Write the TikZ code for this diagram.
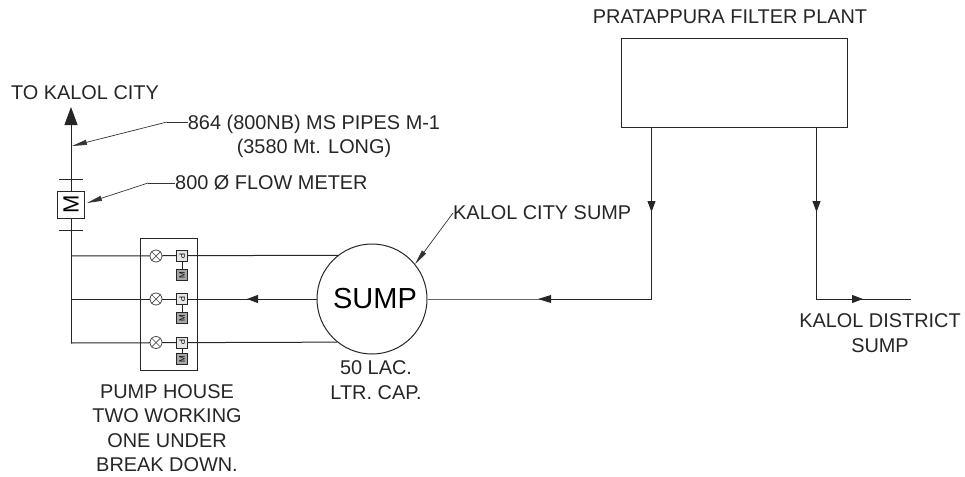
\documentclass[tikz,border=0pt]{standalone}
\usepackage{fontspec}
\setmainfont{Liberation Sans}
\usetikzlibrary{arrows.meta}
\tikzset{
 x=1pt,y=-1pt,
 pipe/.style={draw=black!85,line width=1pt},
 flow/.style={pipe,-{Triangle[length=11pt,width=8pt]}},
 leadline/.style={draw=black!80,line width=0.7pt},
 lead/.style={leadline,-{Triangle[length=15pt,width=5pt]}},
 lbl/.style={font=\fontsize{19.9pt}{24.3pt}\selectfont,text=black!85,inner sep=0pt,align=center},
 pumpbox/.style={draw=black!85,line width=1pt,fill=white,minimum size=11pt,inner sep=0pt},
 valve/.style={draw=black!70,line width=0.8pt,circle,minimum size=12pt,inner sep=0pt,fill=white},
}
\newcommand{\pumpset}[3]{%
 \node[valve] (v#1) at (156,#2) {};
 \draw[black!70,line width=0.7pt] (v#1.north west)--(v#1.south east) (v#1.north east)--(v#1.south west);
 \node[pumpbox,fill=black!10] (p#1) at (182,#2) {\rotatebox{-90}{\fontsize{8pt}{8pt}\selectfont P}};
 \node[pumpbox,fill=black!35] (m#1) at (182,#3) {\rotatebox{90}{\fontsize{8pt}{8pt}\selectfont M}};
 \draw[pipe] (p#1)--(m#1);
}
\begin{document}
\begin{tikzpicture}
\useasboundingbox (0,0) rectangle (965,476);
\node[lbl] (tokalol) at (85,93) {TO KALOL CITY};
\node[lbl] (pipes) at (314,136) {864 (800NB) MS PIPES M-1\\(3580 Mt. LONG)};
\node[lbl,anchor=west] (fm) at (175,183) {800 Ø FLOW METER};
\node[lbl,anchor=west] (citysump) at (453,213) {KALOL CITY SUMP};
\node[lbl] (plantlbl) at (730,17) {PRATAPPURA FILTER PLANT};
\node[draw=black!85,line width=1pt,minimum width=226pt,minimum height=88pt,inner sep=0] (plant) at (734,83) {};
\node[lbl] (dist) at (880,333) {KALOL DISTRICT\\SUMP};
\node[lbl] (cap) at (376,380) {50 LAC.\\LTR. CAP.};
\node[lbl] (ph) at (167,428) {PUMP HOUSE\\TWO WORKING\\ONE UNDER\\BREAK DOWN.};
\node[draw=black!85,line width=1pt,circle,minimum size=110pt,inner sep=0,font=\fontsize{29pt}{29pt}\selectfont] (sump) at (372,299) {\hspace*{6pt}SUMP};
\node[draw=black!85,line width=1pt,minimum width=27pt,minimum height=27pt,inner sep=0] (meter) at (71,204.5) {\rotatebox{90}{\fontsize{22pt}{22pt}\selectfont M}};
\node[draw=black!85,line width=1pt,minimum width=57pt,minimum height=132pt,inner sep=0] (house) at (168.5,304) {};
\coordinate (top) at (71,107);
\coordinate (j1) at (71,256);
\coordinate (j2) at (71,299);
\coordinate (j3) at (71,343);
\draw[pipe,-{Triangle[length=18pt,width=13pt]}] (meter.north)--(top);
\draw[pipe] (meter.south)--(j3);
\draw[pipe] (59,179)--(83,179) (59,230)--(83,230);
\draw[pipe] (j1)--(sump.128.6);
\draw[pipe] (j2)--(sump.180);
\draw[pipe] (j3)--(sump.231.4);
\pumpset{a}{256}{275}\pumpset{b}{299}{318}\pumpset{c}{342.5}{359}
\draw[flow] (sump.180)--(247,299);
\coordinate (c1) at (651.5,299);
\coordinate (c2) at (816.5,299);
\coordinate (c3) at (911,299);
\draw[draw=black!60,line width=1pt] (sump.0)--(c1);
\draw[draw=black!85,line width=0pt,-{Triangle[length=13pt,width=8pt]}] (c1)--(538,299);
\draw[pipe] (plant.south-|c1)--(c1);
\draw[flow] (plant.south-|c1)--(651.5,212);
\draw[pipe] (plant.south-|c2)--(c2)--(c3);
\draw[flow] (plant.south-|c2)--(816.5,212);
\draw[flow] (c2)--(863,299);
\coordinate (k1) at (167,122);
\coordinate (k2) at (148,183);
\coordinate (kp) at (72,146);
\coordinate (km) at (87,203);
\draw[leadline] (188,122)--(k1);
\draw[lead] (k1)--(kp);
\draw[leadline] (fm.west)--(k2);
\draw[lead] (k2)--(km);
\draw[lead] (citysump.west)--(sump.39);
\end{tikzpicture}
\end{document}
